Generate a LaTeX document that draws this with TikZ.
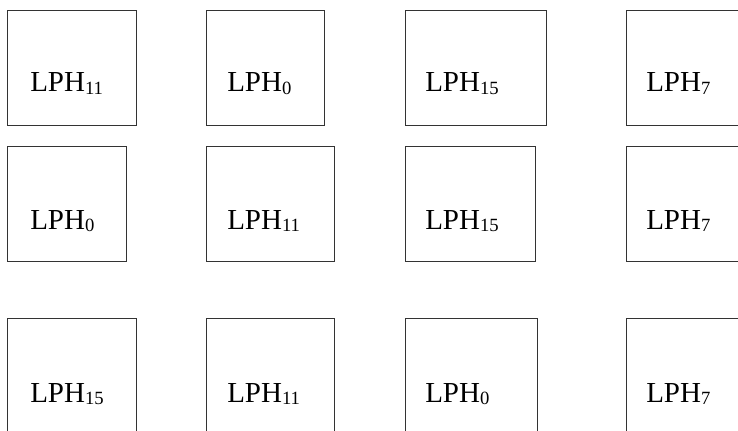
\documentclass[tikz,border=0pt]{standalone}
\usepackage{fontspec}
\setmainfont{Liberation Serif}
% index set smaller and a little below the baseline
\newcommand\lowidx[1]{\raisebox{-2pt}{\fontsize{14}{16}\selectfont #1}}
\begin{document}
\begin{tikzpicture}[x=0.75pt,y=-0.75pt,
  cell/.style={draw=black!80, line width=0.75pt, rectangle, inner sep=0pt,
               anchor=north west},
  tag/.style={anchor=base west, inner sep=0pt,
              font=\fontsize{21.75}{26}\selectfont}]
\useasboundingbox (0,0) rectangle (738,431);
\clip (0,0) rectangle (738,431);

% first row
\node[cell, minimum width={129*0.75pt}, minimum height={115*0.75pt}] (b11) at (7,10) {};
\node[cell, minimum width={118*0.75pt}, minimum height={115*0.75pt}] (b12) at (206,10) {};
\node[cell, minimum width={141*0.75pt}, minimum height={115*0.75pt}] (b13) at (405,10) {};
\node[cell, minimum width={134*0.75pt}, minimum height={115*0.75pt}] (b14) at (626,10) {};
\node[tag] (t11) at (30,91.7)  {LPH\lowidx{11}};
\node[tag] (t12) at (227,91.7) {LPH\lowidx{0}};
\node[tag] (t13) at (425,91.7) {LPH\lowidx{15}};
\node[tag] (t14) at (646,91.7) {LPH\lowidx{7}};

% second row
\node[cell, minimum width={119*0.75pt}, minimum height={115*0.75pt}] (b21) at (7,146) {};
\node[cell, minimum width={128*0.75pt}, minimum height={115*0.75pt}] (b22) at (206,146) {};
\node[cell, minimum width={130*0.75pt}, minimum height={115*0.75pt}] (b23) at (405,146) {};
\node[cell, minimum width={134*0.75pt}, minimum height={115*0.75pt}] (b24) at (626,146) {};
\node[tag] (t21) at (30,229.3)  {LPH\lowidx{0}};
\node[tag] (t22) at (227,229.3) {LPH\lowidx{11}};
\node[tag] (t23) at (425,229.3) {LPH\lowidx{15}};
\node[tag] (t24) at (646,229.3) {LPH\lowidx{7}};

% third row, running past the lower edge
\node[cell, minimum width={129*0.75pt}, minimum height={140*0.75pt}] (b31) at (7,318) {};
\node[cell, minimum width={128*0.75pt}, minimum height={140*0.75pt}] (b32) at (206,318) {};
\node[cell, minimum width={132*0.75pt}, minimum height={140*0.75pt}] (b33) at (405,318) {};
\node[cell, minimum width={134*0.75pt}, minimum height={140*0.75pt}] (b34) at (626,318) {};
\node[tag] (t31) at (30,402.3)  {LPH\lowidx{15}};
\node[tag] (t32) at (227,402.3) {LPH\lowidx{11}};
\node[tag] (t33) at (425,402.3) {LPH\lowidx{0}};
\node[tag] (t34) at (646,402.3) {LPH\lowidx{7}};
\end{tikzpicture}
\end{document}
